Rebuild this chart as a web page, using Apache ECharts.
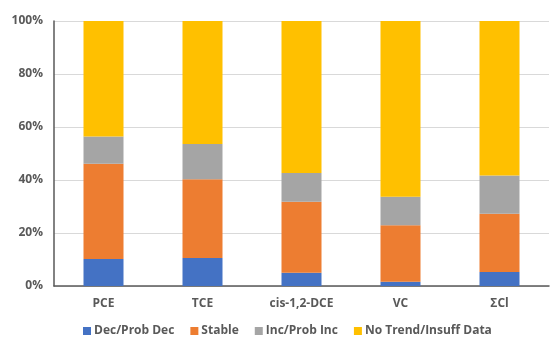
<!DOCTYPE html>
<html>
<head>
<meta charset="utf-8">
<script src="https://cdn.jsdelivr.net/npm/echarts@6/dist/echarts.min.js"></script>
<style>
  html, body { margin: 0; padding: 0; background: #fff; }
  #chart { width: 550px; height: 338px; }
</style>
</head>
<body>
<div id="chart"></div>
<script>
// Trend categories per compound (share of wells, %)
const categories = ['PCE', 'TCE', 'cis-1,2-DCE', 'VC', 'ΣCl'];
const decProbDec = [10.2, 10.6, 5.0, 1.6, 5.3];
const stable = [35.9, 29.7, 26.8, 21.3, 22.0];
const incProbInc = [10.3, 13.3, 10.8, 10.8, 14.4];
const noTrend = [43.6, 46.4, 57.4, 66.3, 58.3];
const yTicks = [0, 20, 40, 60, 80, 100];

const seriesNames = ['Dec/Prob Dec', 'Stable', 'Inc/Prob Inc', 'No Trend/Insuff Data'];
const seriesData = [decProbDec, stable, incProbInc, noTrend];
const colors = ['#4472C4', '#ED7D31', '#A5A5A5', '#FFC000'];

const labelFont = { fontFamily: 'Open Sans', fontWeight: 'bold', fontSize: 12, color: '#595959' };

const chart = echarts.init(document.getElementById('chart'), null, { renderer: 'canvas' });
chart.setOption({
  animation: false,
  backgroundColor: '#fff',
  grid: { left: 54, right: 1, top: 21, bottom: 52, containLabel: false },
  legend: {
    top: 320,
    left: 78,
    itemWidth: 8,
    itemHeight: 8,
    itemGap: 16,
    icon: 'rect',
    textStyle: Object.assign({}, labelFont, { padding: [0, 0, 0, -2] }),
    data: seriesNames
  },
  xAxis: {
    type: 'category',
    data: categories,
    axisLine: { lineStyle: { color: '#595959', width: 1.5 } },
    axisTick: { show: false },
    axisLabel: Object.assign({}, labelFont, { margin: 12 })
  },
  yAxis: {
    type: 'value',
    min: yTicks[0],
    max: yTicks[yTicks.length - 1],
    interval: yTicks[1] - yTicks[0],
    axisLine: { show: true, lineStyle: { color: '#595959', width: 1.5 } },
    axisTick: { show: false },
    splitLine: { lineStyle: { color: '#D9D9D9', width: 1 } },
    axisLabel: Object.assign({}, labelFont, { margin: 11, formatter: v => v + '%' })
  },
  series: seriesNames.map((name, i) => ({
    name,
    type: 'bar',
    stack: 'total',
    barWidth: 40,
    itemStyle: { color: colors[i] },
    data: seriesData[i]
  }))
});
</script>
</body>
</html>
